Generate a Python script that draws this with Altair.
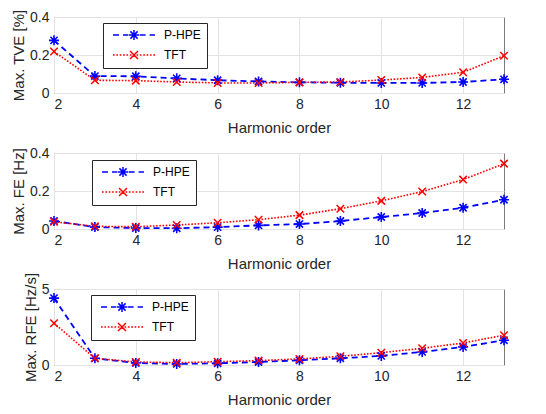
import altair as alt
import pandas as pd

# ---- data ----
harmonics = [2, 3, 4, 5, 6, 7, 8, 9, 10, 11, 12, 13]

tve_phpe = [0.277, 0.089, 0.088, 0.077, 0.067, 0.061, 0.056, 0.054, 0.053, 0.053, 0.058, 0.072]
tve_tft = [0.218, 0.067, 0.065, 0.058, 0.053, 0.053, 0.056, 0.058, 0.068, 0.082, 0.109, 0.196]

fe_phpe = [0.042, 0.010, 0.005, 0.004, 0.010, 0.019, 0.026, 0.042, 0.063, 0.084, 0.112, 0.154]
fe_tft = [0.038, 0.014, 0.012, 0.021, 0.033, 0.049, 0.073, 0.107, 0.148, 0.197, 0.260, 0.344]

rfe_phpe = [4.40, 0.44, 0.13, 0.07, 0.11, 0.20, 0.31, 0.44, 0.60, 0.86, 1.19, 1.63]
rfe_tft = [2.75, 0.44, 0.20, 0.15, 0.22, 0.29, 0.40, 0.57, 0.81, 1.10, 1.45, 1.96]

series_names = ["P-HPE", "TFT"]
x_ticks = [2, 4, 6, 8, 10, 12]

panels = [
    ("Max. TVE [%]", tve_phpe, tve_tft, [0, 0.4], [0, 0.2, 0.4], (49, 6)),
    ("Max. FE [Hz]", fe_phpe, fe_tft, [0, 0.4], [0, 0.2, 0.4], (38, 7)),
    ("Max. RFE [Hz/s]", rfe_phpe, rfe_tft, [0, 5], [0, 5], (37, 6)),
]

BLUE = "#0000FF"
RED = "#FF0000"
FONT = "Liberation Sans"

# marker shapes (unit square paths)
ASTERISK = "M-1,0L1,0M0,-1L0,1M-0.72,-0.72L0.72,0.72M-0.72,0.72L0.72,-0.72"
XMARK = "M-1,-1L1,1M-1,1L1,-1"


def dashed_segments(x0, x1, dash, gap):
    parts = []
    x = x0
    while x < x1 - 1e-9:
        e = min(x + dash, x1)
        parts.append(f"M{x:.2f},0L{e:.2f},0")
        x = e + gap
    return "".join(parts)


# legend symbol paths: line sample + marker
LEG_PHPE = (dashed_segments(-5.25, -1.4, 1.5, 1.0) + dashed_segments(1.4, 5.25, 1.5, 1.0)
            + "M-1.25,0L1.25,0M0,-1.25L0,1.25M-0.9,-0.9L0.9,0.9M-0.9,0.9L0.9,-0.9")
LEG_TFT = (dashed_segments(-5.25, 5.25, 0.42, 0.42)
           + "M-1.0,-1.0L1.0,1.0M-1.0,1.0L1.0,-1.0")

W, H = 450, 76


def panel(title, phpe, tft, ydom, yticks, legpos):
    df = pd.DataFrame({
        "h": harmonics * 2,
        "v": phpe + tft,
        "series": ["P-HPE"] * len(harmonics) + ["TFT"] * len(harmonics),
    })
    x = alt.X("h:Q", scale=alt.Scale(domain=[2, 13], nice=False, zero=False),
              axis=alt.Axis(values=x_ticks, title="Harmonic order", format="d"))
    y = alt.Y("v:Q", scale=alt.Scale(domain=ydom, nice=False, zero=False),
              axis=alt.Axis(values=yticks, title=title, format="~g"))
    base = alt.Chart(df).encode(x=x, y=y)

    line_p = base.transform_filter("datum.series == 'P-HPE'").mark_line(
        color=BLUE, strokeDash=[6, 4], strokeWidth=1.8)
    line_t = base.transform_filter("datum.series == 'TFT'").mark_line(
        color=RED, strokeDash=[1.6, 1.6], strokeWidth=1.6)
    pts_p = base.transform_filter("datum.series == 'P-HPE'").mark_point(
        shape=ASTERISK, size=100, color=BLUE, filled=False, strokeWidth=1.6, opacity=1)
    pts_t = base.transform_filter("datum.series == 'TFT'").mark_point(
        shape=XMARK, size=56, color=RED, filled=False, strokeWidth=1.5, opacity=1)

    leg = alt.Legend(
        title=None, orient="none", legendX=legpos[0], legendY=legpos[1],
        fillColor="white", strokeColor="#262626", padding=6,
        symbolSize=64, symbolStrokeWidth=1.5, symbolOffset=19, labelOffset=24,
        labelFont=FONT, labelFontSize=12, labelColor="#000000", rowPadding=5,
        symbolOpacity=1,
    )
    legend_layer = base.transform_filter("false").mark_point(
        filled=False, opacity=1, strokeWidth=1.5).encode(
        color=alt.Color("series:N", scale=alt.Scale(domain=series_names, range=[BLUE, RED]),
                        legend=leg),
        shape=alt.Shape("series:N", scale=alt.Scale(domain=series_names, range=[LEG_PHPE, LEG_TFT]),
                        legend=leg),
    )
    return alt.layer(line_p, line_t, pts_p, pts_t, legend_layer).properties(width=W, height=H)


charts = [panel(*p) for p in panels]

chart = alt.vconcat(*charts, spacing=60, bounds="flush").resolve_scale(
    color="independent", shape="independent"
).resolve_legend(
    color="independent", shape="independent"
).properties(
    padding={"left": 11, "top": 8, "right": 5, "bottom": 5},
    background="white",
).configure_view(
    stroke="#7a7a7a", strokeWidth=1
).configure_axis(
    domain=False, ticks=False, tickSize=0,
    grid=True, gridColor="#e3e3e3", gridWidth=1,
    labelFont=FONT, labelFontSize=14, labelColor="#262626",
    titleFont=FONT, titleFontSize=15, titleFontWeight="normal", titleColor="#262626",
).configure_axisX(
    labelPadding=4, titlePadding=9
).configure_axisY(
    labelPadding=5, titlePadding=3
)

chart.save("out.html", embed_options={"renderer": "svg", "actions": False})
